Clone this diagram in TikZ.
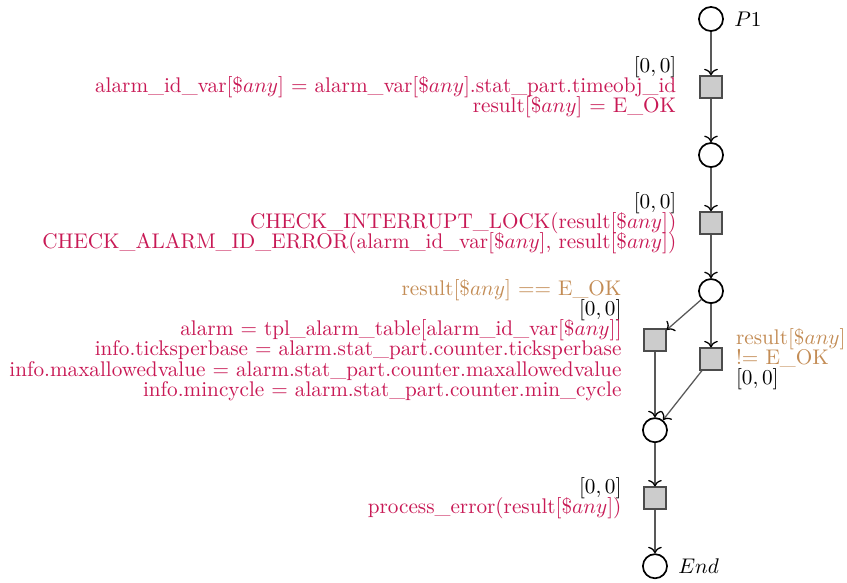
\documentclass[tikz,border=0pt]{standalone}
\usepackage{amsmath}
\usepackage{amsfonts}
\usetikzlibrary{positioning,arrows.meta}
\definecolor{actred}{RGB}{200,25,85}
\definecolor{guardbrown}{RGB}{195,140,85}
\newcommand\tightlines{\fontsize{10}{9.5}\selectfont\lineskiplimit=-10pt\relax}

\begin{document}
\begin{tikzpicture}[node distance=1.128cm,on grid,>={To[scale=1.05,black]},
    place/.style={circle,draw,thick,fill=white,minimum size=0.4cm,inner sep=0pt},
    trans/.style={rectangle,draw=black!70,thick,fill=black!20,minimum size=0.36cm,inner sep=0pt},
    every label/.style={align=right,inner sep=1pt,font=\tightlines}]
            \useasboundingbox (-11.79,0.315) rectangle (2.255,-9.337);
            \node[place, label={[label distance=0.13cm]right:$P1$}] (p_1) at (0,0) {};
            \node[trans, label={[label distance=0.34cm]left:{$[0,0]$\\
                \textcolor{actred}{alarm\_id\_var[\$$any$] = alarm\_var[\$$any$].stat\_part.timeobj\_id}\\
                \textcolor{actred}{result[\$$any$] = E\_OK}}}] (t_1) [below=of p_1] {};
            \node[place] (p_2) [below=of t_1] {};
            \node[trans, label={[label distance=0.34cm]left:{$[0,0]$\\
                \textcolor{actred}{CHECK\_INTERRUPT\_LOCK(result[\$$any$])}\\
                \textcolor{actred}{CHECK\_ALARM\_ID\_ERROR(alarm\_id\_var[\$$any$], result[\$$any$])}}}] (t_2) [below=of p_2] {};
            \node[place] (p_3) [below=of t_2] {};
            \node[trans, label={[label distance=0.32cm]left:{\textcolor{guardbrown}{result[\$$any$] == E\_OK}\\
                $[0,0]$\\
                \textcolor{actred}{alarm = tpl\_alarm\_table[alarm\_id\_var[\$$any$]]}\\
                \textcolor{actred}{info.ticksperbase = alarm.stat\_part.counter.ticksperbase}\\
                \textcolor{actred}{info.maxallowedvalue = alarm.stat\_part.counter.maxallowedvalue}\\
                \textcolor{actred}{info.mincycle = alarm.stat\_part.counter.min\_cycle}}}] (t_3) [below left=0.813cm and 0.929cm of p_3] {};
            \node[trans, label={[label distance=0.18cm,align=left]right:{\textcolor{guardbrown}{result[\$$any$]}\\
                \textcolor{guardbrown}{!= E\_OK}\\
                $[0,0]$}}] (t_4) [below=of p_3] {};
            \node[place] (p_4) [below=1.493cm of t_3] {};
            \node[trans, label={[label distance=0.32cm]left:{$[0,0]$\\
                \textcolor{actred}{process\_error(result[\$$any$])}}}] (t_5) [below=of p_4] {};
            \node[place, label={[label distance=0.13cm]right:$End$}] (p_5) [below=of t_5] {};
            \path[->, draw=black!65, semithick]
                (p_1) edge (t_1)
                (t_1) edge (p_2)
                (p_2) edge (t_2)
                (t_2) edge (p_3)
                (p_3)
                    edge (t_3)
                    edge (t_4)
                (t_3) edge (p_4)
                (t_4) edge (p_4)
                (p_4) edge (t_5)
                (t_5) edge (p_5);
        \end{tikzpicture}
\end{document}
